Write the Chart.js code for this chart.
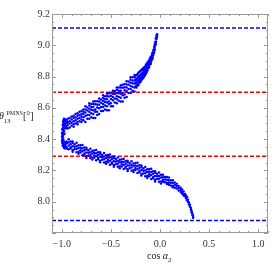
<!DOCTYPE html>
<html>
<head>
<meta charset="utf-8">
<script src="https://cdn.jsdelivr.net/npm/chart.js@4/dist/chart.umd.min.js"></script>
<style>
    html, body { margin: 0; padding: 0; background: #fff; }
    #wrap { width: 272px; height: 272px; }
</style>
</head>
<body>
<div id="wrap"><canvas id="chart" width="272" height="272"></canvas></div>
<script>

// =========================================================
// Data
// =========================================================

const xRange = [-1.1, 1.1];
const yRange = [7.8, 9.2];

const xMajorTicks = [-1.0, -0.5, 0.0, 0.5, 1.0];
const xMinorTicks = [-1.1, -0.9, -0.8, -0.7, -0.6, -0.4, -0.3, -0.2, -0.1,
                     0.1, 0.2, 0.3, 0.4, 0.6, 0.7, 0.8, 0.9, 1.1];
const yMajorTicks = [7.8, 8.0, 8.2, 8.4, 8.6, 8.8, 9.0, 9.2];
const yMinorTicks = [7.85, 7.9, 7.95, 8.05, 8.1, 8.15, 8.25, 8.3, 8.35,
                     8.45, 8.5, 8.55, 8.65, 8.7, 8.75, 8.85, 8.9, 8.95,
                     9.05, 9.1, 9.15];

// 3 sigma bounds (blue) and 1 sigma bounds (red) on theta13
const bounds3Sigma = [7.88, 9.11];
const bounds1Sigma = [8.29, 8.70];

// scatter columns: [cos a2, theta13 values at that cos a2 ...]
const upperBranch = [
    [-0.030, 9.07, 9.055], [-0.036, 9.06, 9.04], [-0.042, 9.045, 9.025, 9.01], [-0.048, 9.02, 9.00],
    [-0.054, 9.005, 8.985, 8.97], [-0.060, 8.99, 8.975, 8.955], [-0.067, 8.97, 8.95, 8.94],
    [-0.074, 8.955, 8.935, 8.92], [-0.081, 8.945, 8.925, 8.91], [-0.088, 8.93, 8.915, 8.90],
    [-0.095, 8.925, 8.905, 8.89, 8.88], [-0.103, 8.915, 8.90, 8.88], [-0.111, 8.905, 8.885, 8.87, 8.86],
    [-0.119, 8.895, 8.875, 8.855], [-0.127, 8.89, 8.87, 8.855, 8.84], [-0.135, 8.88, 8.86, 8.84, 8.83],
    [-0.143, 8.875, 8.855, 8.835, 8.82], [-0.151, 8.865, 8.845, 8.83, 8.81], [-0.159, 8.86, 8.84, 8.82, 8.805],
    [-0.167, 8.855, 8.835, 8.815, 8.795], [-0.175, 8.85, 8.825, 8.81, 8.79], [-0.183, 8.845, 8.82, 8.80, 8.785],
    [-0.191, 8.84, 8.815, 8.795, 8.775], [-0.200, 8.835, 8.81, 8.79, 8.775, 8.765], [-0.210, 8.83, 8.80, 8.785, 8.76],
    [-0.220, 8.825, 8.80, 8.775, 8.755, 8.745], [-0.230, 8.815, 8.79, 8.77, 8.75], [-0.240, 8.81, 8.785, 8.765, 8.74, 8.73],
    [-0.250, 8.805, 8.78, 8.755, 8.735],
    [-0.26, 8.81, 8.795, 8.775, 8.755, 8.73, 8.705], [-0.28, 8.795, 8.775, 8.758, 8.735, 8.71],
    [-0.30, 8.795, 8.78, 8.76, 8.74, 8.72, 8.695], [-0.32, 8.768, 8.748, 8.72, 8.695],
    [-0.34, 8.77, 8.75, 8.73, 8.708, 8.67], [-0.36, 8.752, 8.732, 8.712, 8.685, 8.665],
    [-0.38, 8.748, 8.728, 8.695, 8.68, 8.64], [-0.40, 8.745, 8.73, 8.71, 8.69, 8.665, 8.64],
    [-0.42, 8.73, 8.71, 8.693, 8.67, 8.645], [-0.44, 8.73, 8.715, 8.695, 8.675, 8.655, 8.63],
    [-0.46, 8.708, 8.688, 8.66, 8.635], [-0.48, 8.71, 8.69, 8.67, 8.648, 8.61],
    [-0.50, 8.697, 8.677, 8.657, 8.63, 8.61], [-0.52, 8.693, 8.673, 8.64, 8.625, 8.585],
    [-0.54, 8.69, 8.675, 8.655, 8.635, 8.61, 8.585], [-0.56, 8.675, 8.655, 8.638, 8.615, 8.59],
    [-0.58, 8.68, 8.665, 8.645, 8.625, 8.605, 8.58], [-0.60, 8.653, 8.633, 8.605, 8.58],
    [-0.62, 8.66, 8.64, 8.62, 8.598, 8.56], [-0.64, 8.642, 8.622, 8.602, 8.575, 8.555],
    [-0.66, 8.643, 8.623, 8.59, 8.575, 8.535], [-0.68, 8.64, 8.625, 8.605, 8.585, 8.56, 8.535],
    [-0.70, 8.625, 8.605, 8.588, 8.565, 8.54], [-0.72, 8.63, 8.615, 8.595, 8.575, 8.555, 8.53],
    [-0.74, 8.603, 8.583, 8.555, 8.53], [-0.76, 8.61, 8.59, 8.57, 8.548, 8.51],
    [-0.78, 8.59, 8.575, 8.56, 8.54, 8.52], [-0.80, 8.58, 8.56, 8.545, 8.525, 8.51],
    [-0.82, 8.575, 8.555, 8.535, 8.515], [-0.84, 8.565, 8.55, 8.53, 8.51, 8.495],
    [-0.86, 8.56, 8.54, 8.52, 8.50], [-0.88, 8.55, 8.535, 8.515, 8.495, 8.48],
    [-0.90, 8.545, 8.525, 8.505, 8.485], [-0.92, 8.535, 8.515, 8.50, 8.475],
    [-0.94, 8.53, 8.51, 8.49, 8.47]
];

const turningBlob = [
    [-0.998, 8.44, 8.415, 8.39], [-0.995, 8.465, 8.43, 8.40, 8.375],
    [-0.991, 8.49, 8.455, 8.42, 8.385, 8.36], [-0.987, 8.51, 8.475, 8.44, 8.41, 8.37],
    [-0.983, 8.52, 8.50, 8.46, 8.43, 8.395, 8.355], [-0.978, 8.53, 8.485, 8.45, 8.365, 8.345],
    [-0.972, 8.515, 8.49, 8.435, 8.38, 8.35], [-0.966, 8.525, 8.50, 8.47, 8.36, 8.34],
    [-0.960, 8.51, 8.48, 8.37, 8.345], [-0.953, 8.52, 8.485, 8.385, 8.35],
    [-0.946, 8.505, 8.47, 8.375, 8.34]
];

const lowerBranch = [
    [-0.930, 8.40, 8.38, 8.36, 8.335], [-0.910, 8.385, 8.368, 8.348, 8.34],
    [-0.890, 8.385, 8.375, 8.355, 8.33, 8.32], [-0.870, 8.368, 8.352, 8.335],
    [-0.850, 8.377, 8.355, 8.337, 8.317], [-0.830, 8.361, 8.344, 8.319, 8.306],
    [-0.810, 8.361, 8.345, 8.329, 8.315], [-0.790, 8.362, 8.342, 8.322, 8.297],
    [-0.770, 8.346, 8.329, 8.309, 8.301], [-0.750, 8.345, 8.335, 8.315, 8.29, 8.28],
    [-0.730, 8.329, 8.313, 8.296], [-0.710, 8.339, 8.317, 8.299, 8.279],
    [-0.690, 8.325, 8.308, 8.283, 8.27], [-0.670, 8.327, 8.311, 8.295, 8.281],
    [-0.650, 8.33, 8.31, 8.29, 8.265], [-0.630, 8.316, 8.299, 8.279, 8.271],
    [-0.610, 8.317, 8.307, 8.287, 8.262, 8.252], [-0.590, 8.301, 8.285, 8.268],
    [-0.570, 8.311, 8.289, 8.271, 8.251], [-0.550, 8.297, 8.28, 8.255, 8.242],
    [-0.530, 8.299, 8.283, 8.267, 8.253], [-0.510, 8.302, 8.282, 8.262, 8.237],
    [-0.490, 8.288, 8.271, 8.251, 8.243], [-0.470, 8.289, 8.279, 8.259, 8.234, 8.224],
    [-0.450, 8.273, 8.257, 8.24], [-0.430, 8.283, 8.261, 8.243, 8.223],
    [-0.410, 8.269, 8.252, 8.227, 8.214], [-0.390, 8.271, 8.255, 8.239, 8.225],
    [-0.370, 8.274, 8.254, 8.234, 8.209], [-0.350, 8.26, 8.243, 8.223, 8.215],
    [-0.330, 8.262, 8.252, 8.232, 8.207, 8.197], [-0.310, 8.247, 8.231, 8.214],
    [-0.290, 8.258, 8.236, 8.218, 8.198], [-0.270, 8.245, 8.228, 8.203, 8.19],
    [-0.250, 8.248, 8.232, 8.216, 8.202], [-0.230, 8.249, 8.229, 8.209, 8.184],
    [-0.210, 8.233, 8.216, 8.196, 8.188], [-0.190, 8.232, 8.222, 8.202, 8.177, 8.167],
    [-0.170, 8.214, 8.198, 8.181], [-0.150, 8.222, 8.20, 8.182, 8.162],
    [-0.130, 8.207, 8.19, 8.165, 8.152], [-0.110, 8.208, 8.192, 8.176, 8.162],
    [-0.090, 8.21, 8.19, 8.17, 8.145], [-0.070, 8.195, 8.178, 8.158, 8.15],
    [-0.050, 8.195, 8.185, 8.165, 8.14, 8.13], [-0.030, 8.178, 8.162, 8.145],
    [-0.010, 8.187, 8.165, 8.147, 8.127], [0.010, 8.172, 8.155, 8.13, 8.117],
    [0.030, 8.173, 8.157, 8.141, 8.127], [0.050, 8.158, 8.142, 8.125],
    [0.070, 8.158, 8.141, 8.121, 8.113], [0.090, 8.154, 8.138, 8.122, 8.108],
    [0.110, 8.137, 8.121, 8.104], [0.130, 8.137, 8.12, 8.10, 8.092],
    [0.150, 8.123, 8.107, 8.09], [0.170, 8.115, 8.10, 8.085],
    [0.190, 8.10, 8.088, 8.072], [0.210, 8.09, 8.077, 8.062],
    [0.225, 8.078, 8.063, 8.052], [0.240, 8.065, 8.05, 8.04],
    [0.255, 8.05, 8.035], [0.265, 8.04, 8.022], [0.275, 8.028, 8.01],
    [0.285, 8.012, 7.998], [0.295, 7.995, 7.982], [0.305, 7.98, 7.968],
    [0.315, 7.96, 7.948], [0.322, 7.942, 7.932], [0.330, 7.925, 7.915],
    [0.337, 7.908, 7.898]
];

// =========================================================
// Styles
// =========================================================

const BLUE  = '#0000ff';
const RED   = '#ff0000';
const FRAME = '#9a9a9a';
const SERIF = '"Liberation Serif", "DejaVu Serif", serif';

const toPoints = cols => cols.flatMap(([x, ...ys]) => ys.map(y => ({ x, y })));

const scatterSet = cols => ({
    data: toPoints(cols),
    backgroundColor: BLUE,
    borderWidth: 0,
    pointRadius: 1.25,
});

const hLine = (value, color) => ({
    type: 'line',
    data: [{ x: xRange[0], y: value }, { x: xRange[1], y: value }],
    borderColor: color,
    borderWidth: 1.5,
    borderDash: [4, 2],
    pointRadius: 0,
    fill: false,
});

// =========================================================
// Frame, inward ticks and axis titles
// =========================================================

const frameTicks = {
    id: 'frameTicks',
    afterDraw(chart) {
        const { ctx, chartArea: a, scales: { x, y } } = chart;
        ctx.save();
        ctx.strokeStyle = FRAME;
        ctx.lineWidth = 1;
        ctx.strokeRect(a.left + 0.5, a.top + 0.5, a.right - a.left - 1, a.bottom - a.top - 1);

        const tickX = (v, len) => {
            const px = Math.round(x.getPixelForValue(v)) + 0.5;
            ctx.beginPath();
            ctx.moveTo(px, a.bottom); ctx.lineTo(px, a.bottom - len);
            ctx.moveTo(px, a.top);    ctx.lineTo(px, a.top + len);
            ctx.stroke();
        };
        const tickY = (v, len) => {
            const py = Math.round(y.getPixelForValue(v)) + 0.5;
            ctx.beginPath();
            ctx.moveTo(a.left, py);  ctx.lineTo(a.left + len, py);
            ctx.moveTo(a.right, py); ctx.lineTo(a.right - len, py);
            ctx.stroke();
        };
        xMajorTicks.forEach(v => tickX(v, 4));
        xMinorTicks.forEach(v => tickX(v, 2));
        yMajorTicks.forEach(v => tickY(v, 4));
        yMinorTicks.forEach(v => tickY(v, 2));

        // axis titles
        ctx.fillStyle = '#222';
        ctx.textBaseline = 'alphabetic';
        ctx.textAlign = 'left';

        ctx.font = 'italic 10px ' + SERIF;
        ctx.fillText('θ', -1, 119);
        ctx.font = '7px ' + SERIF;
        ctx.fillText('13', 3.5, 122.5);
        ctx.font = '6px ' + SERIF;
        ctx.fillText('PMNS', 6.5, 115);
        ctx.font = '10px ' + SERIF;
        ctx.fillText('[°]', 23, 118.5);

        let cx = 147;
        ctx.font = '10px ' + SERIF;
        ctx.fillText('cos', cx, 259);
        cx += ctx.measureText('cos ').width;
        ctx.font = 'italic 10px ' + SERIF;
        ctx.fillText('α', cx, 259);
        cx += ctx.measureText('α').width;
        ctx.font = '7px ' + SERIF;
        ctx.fillText('2', cx, 261.5);
        ctx.restore();
    }
};

// =========================================================
// Chart
// =========================================================

const fmt = v => (v < 0 ? '\u2212' : '') + Math.abs(v).toFixed(1);

new Chart(document.getElementById('chart'), {
    type: 'scatter',
    data: {
        datasets: [
            scatterSet(upperBranch),
            scatterSet(turningBlob),
            scatterSet(lowerBranch),
            hLine(bounds3Sigma[0], BLUE),
            hLine(bounds3Sigma[1], BLUE),
            hLine(bounds1Sigma[0], RED),
            hLine(bounds1Sigma[1], RED),
        ],
    },
    options: {
        responsive: false,
        animation: false,
        devicePixelRatio: 1,
        layout: { padding: { top: 14, right: 0, left: 0, bottom: 0 } },
        plugins: { legend: { display: false }, tooltip: { enabled: false } },
        scales: {
            x: {
                type: 'linear',
                min: xRange[0], max: xRange[1],
                afterBuildTicks: s => { s.ticks = xMajorTicks.map(value => ({ value })); },
                afterFit: s => { s.height = 39; },
                grid: { display: false, drawTicks: false },
                border: { display: false },
                ticks: { color: '#333', padding: 5, maxRotation: 0, autoSkip: false,
                         font: { family: SERIF, size: 10 }, callback: v => fmt(v) },
            },
            y: {
                type: 'linear',
                min: yRange[0], max: yRange[1],
                afterBuildTicks: s => { s.ticks = yMajorTicks.map(value => ({ value })); },
                afterFit: s => { s.width = 52; },
                grid: { display: false, drawTicks: false },
                border: { display: false },
                ticks: { color: '#333', padding: 2, autoSkip: false,
                         font: { family: SERIF, size: 10 },
                         callback: v => (v < 7.9 ? '' : fmt(v)) },
            },
        },
    },
    plugins: [frameTicks],
});
</script>
</body>
</html>
